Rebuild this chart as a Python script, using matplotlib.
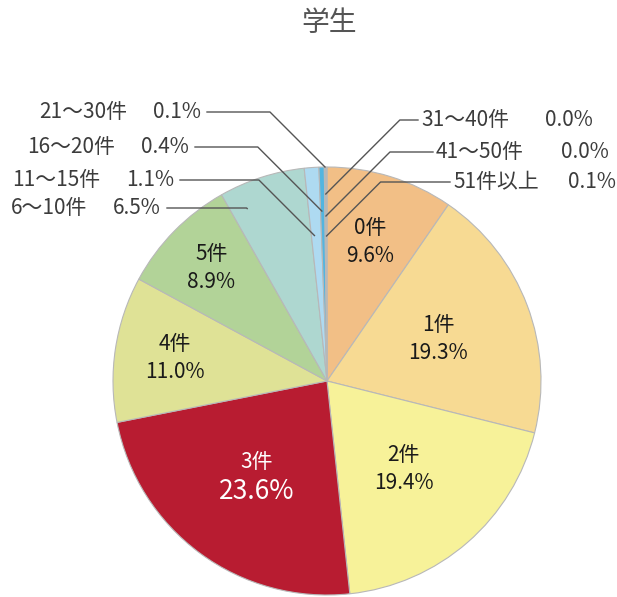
import numpy as np
import matplotlib
matplotlib.use("Agg")
from matplotlib import pyplot as plt

plt.rcParams['font.family'] = ['Noto Sans CJK JP', 'DejaVu Sans']

# share of students by number of items
categories = ['0件', '1件', '2件', '3件', '4件', '5件', '6〜10件', '11〜15件',
              '16〜20件', '21〜30件', '31〜40件', '41〜50件', '51件以上']
shares = [9.6, 19.3, 19.4, 23.6, 11.0, 8.9, 6.5, 1.1, 0.4, 0.1, 0.0, 0.0, 0.1]
colors = ['#F2BF86', '#F7DA93', '#F7F299', '#B81C31', '#DFE296', '#B2D398',
          '#AED7D0', '#AEDAF1', '#52B5E0', '#B9C9D9', '#C4CFDA', '#B6C3D2',
          '#A3B8CE']
title = '学生'

W, H = 617, 597
CX, CY, R = 327, 381, 214

fig = plt.figure(figsize=(W / 100, H / 100), dpi=100)
ax = fig.add_axes([0, 0, 1, 1])

# y axis runs downwards, so counterclock=True draws clockwise from the top
ax.pie(shares, colors=colors, center=(CX, CY), radius=R, startangle=-90,
       counterclock=True, wedgeprops=dict(edgecolor='#B8B8B8', linewidth=0.8))
ax.set_xlim(0, W)
ax.set_ylim(H, 0)
ax.set_aspect('equal')
ax.axis('off')

frac = np.array(shares) / sum(shares)
cum_end = np.cumsum(frac)
cum_start = cum_end - frac


def polar(f, r):
    """Point at cumulative fraction f and radius r."""
    theta = np.deg2rad(-90 + 360 * f)
    return CX + r * np.cos(theta), CY + r * np.sin(theta)


# labels inside the large slices: radius from centre for each
inner_r = [146, 119, 117, 119, 154, 162]
for i, r in enumerate(inner_r):
    mid = (cum_start[i] + cum_end[i]) / 2
    x, y = polar(mid, r)
    big = categories[i] == '3件'
    col = 'white' if big else '#1A1A1A'
    gap = 15 if big else 14
    ax.text(x, y - gap, categories[i], ha='center', va='center',
            fontsize=15, color=col)
    ax.text(x, y + gap, f'{shares[i]:.1f}%', ha='center', va='center',
            fontsize=19 if big else 15, color=col)

# leader-line labels: index, side, text y, tip radius, tip position in wedge, line end x
outer = [
    (9, 'left', 112, 214, 0.5, 207),
    (8, 'left', 147, 170, 0.3, 195),
    (7, 'left', 180, 146, 0.3, 180),
    (6, 'left', 208, 190, 0.2, 167),
    (10, 'right', 120, 187, 0.5, 418),
    (11, 'right', 152, 165, 0.5, 433),
    (12, 'right', 182, 145, 0.5, 450),
]
right_pct_x = {10: 545, 11: 561, 12: 568}
line_col = '#555555'
text_col = '#3C3C3C'
for i, side, ly, tr, tf, ex in outer:
    f = cum_start[i] + tf * frac[i]
    tx, ty = polar(f, tr)
    d = ty - ly
    if side == 'left':
        kx = tx - d
        ax.plot([ex, kx, tx], [ly, ly, ty], color=line_col, lw=1.0)
        ax.text(ex - 6, ly, f'{shares[i]:.1f}%', ha='right', va='center',
                fontsize=15, color=text_col)
        ax.text(ex - 80, ly, categories[i], ha='right', va='center',
                fontsize=15, color=text_col)
    else:
        kx = tx + d
        ax.plot([ex, kx, tx], [ly, ly, ty], color=line_col, lw=1.0)
        ax.text(ex + 3, ly, categories[i], ha='left', va='center',
                fontsize=15, color=text_col)
        ax.text(right_pct_x[i], ly, f'{shares[i]:.1f}%', ha='left',
                va='center', fontsize=15, color=text_col)

ax.text(CX + 2, 23, title, ha='center', va='center', fontsize=20,
        color='#555555')

fig.savefig('out.png', dpi=100)
